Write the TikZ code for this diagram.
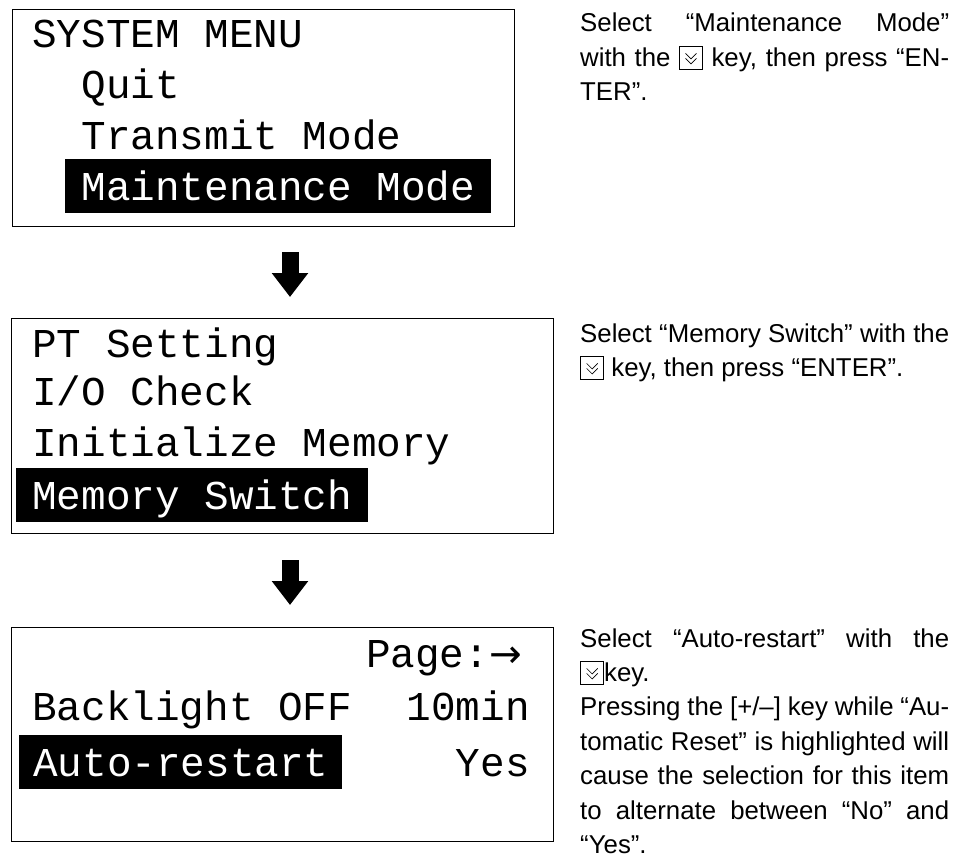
\documentclass[tikz,border=0pt]{standalone}
\usepackage{fontspec}
\setmainfont{Liberation Sans}
\newfontfamily\lcdfont{Liberation Mono}
\newfontfamily\arrowfont{DejaVu Sans}
\usepackage{pict2e}
\usetikzlibrary{arrows.meta}
\usetikzlibrary{calc}
\tikzset{
  % The frame of one LCD screen
  screen/.style={
    draw=black, line width=1.2pt, anchor=north west, inner sep=0pt,
    minimum width=#1},
  % A line of text on the screen
  lcdtext/.style={
    font=\lcdfont\fontsize{41}{41}\selectfont, inner sep=0pt,
    anchor=base west},
  lcdright/.style={lcdtext, anchor=base east},
  % The highlighted (selected) item
  selected/.style={
    lcdtext, fill=black, text=white, inner xsep=16pt, inner ysep=0pt,
    text height=41pt, text depth=13pt},
  % The explanation beside a screen
  note/.style={
    font=\fontsize{25.8}{34.4}\selectfont, text width=369pt,
    align=justify, inner sep=0pt, anchor=base west},
  % Step from one screen to the next
  nextstep/.style={
    line width=17pt, -{Triangle[width=35pt, length=24pt]}},
}
% The down-cursor key
\newcommand{\keydown}{%
  \raisebox{-3.5pt}{\setlength{\unitlength}{1pt}%
  \begin{picture}(24,24)
    \linethickness{0.8pt}
    \polygon(0.4,0.4)(23.6,0.4)(23.6,23.6)(0.4,23.6)
    \linethickness{0.6pt}
    \polyline(6.5,16.5)(12,11)(17.5,16.5)
    \polyline(6.5,11.5)(12,6)(17.5,11.5)
  \end{picture}}}

\begin{document}
\begin{tikzpicture}[x=1pt, y=-1pt]
  \useasboundingbox (0,0) rectangle (966,859);

  \node[screen=502pt, minimum height=217pt] (lcd1) at (12,9) {};
  \node[screen=542pt, minimum height=215pt] (lcd2) at (11,318) {};
  \node[screen=542pt, minimum height=214pt] (lcd3) at (11,627) {};

  % system menu
  \node[lcdtext] (title) at (32,48) {SYSTEM MENU};
  \node[lcdtext] (quit) at (81.2,98) {Quit};
  \node[lcdtext] (transmit) at (81.2,149) {Transmit Mode};
  \node[selected] (maint) at (65.2,200) {Maintenance Mode};

  % maintenance mode
  \node[lcdtext] (ptset) at (32,357) {PT Setting};
  \node[lcdtext] (iocheck) at (32,405) {I/O Check};
  \node[lcdtext] (initmem) at (32,456) {Initialize Memory};
  \node[selected] (memsw) at (16,509) {Memory Switch};

  % memory switch
  \node[lcdright] (page) at (522,667) {Page:{\arrowfont\fontsize{39}{39}\selectfont →}};
  \node[lcdtext] (backlight) at (32,720) {Backlight OFF};
  \node[lcdright] (minutes) at (530,720) {10min};
  \node[selected, inner xsep=14pt] (autorestart) at (19,776) {Auto-restart};
  \node[lcdright] (yes) at (530,776) {Yes};

  \coordinate (axis) at (290,0);
  \draw[nextstep] ($(lcd1.south -| axis)+(0,25)$) -- ($(lcd2.north -| axis)+(0,-21)$);
  \draw[nextstep] ($(lcd2.south -| axis)+(0,26)$) -- ($(lcd3.north -| axis)+(0,-22)$);

  \node[note] (note1) at (580,32) {Select “Maintenance Mode”\linebreak
    with the \keydown{} key, then press “EN-\linebreak TER”.};
  \node[note] (note2) at (580,342) {Select “Memory Switch” with the\linebreak
    \keydown{} key, then press “ENTER”.};
  \node[note] (note3) at (580,647) {Select “Auto-restart” with the\linebreak
    \keydown{}key.\\ Pressing the [+/–] key while “Au-\linebreak
    tomatic Reset” is highlighted will\linebreak
    cause the selection for this item\linebreak
    to alternate between “No” and\linebreak “Yes”.};

\end{tikzpicture}
\end{document}
